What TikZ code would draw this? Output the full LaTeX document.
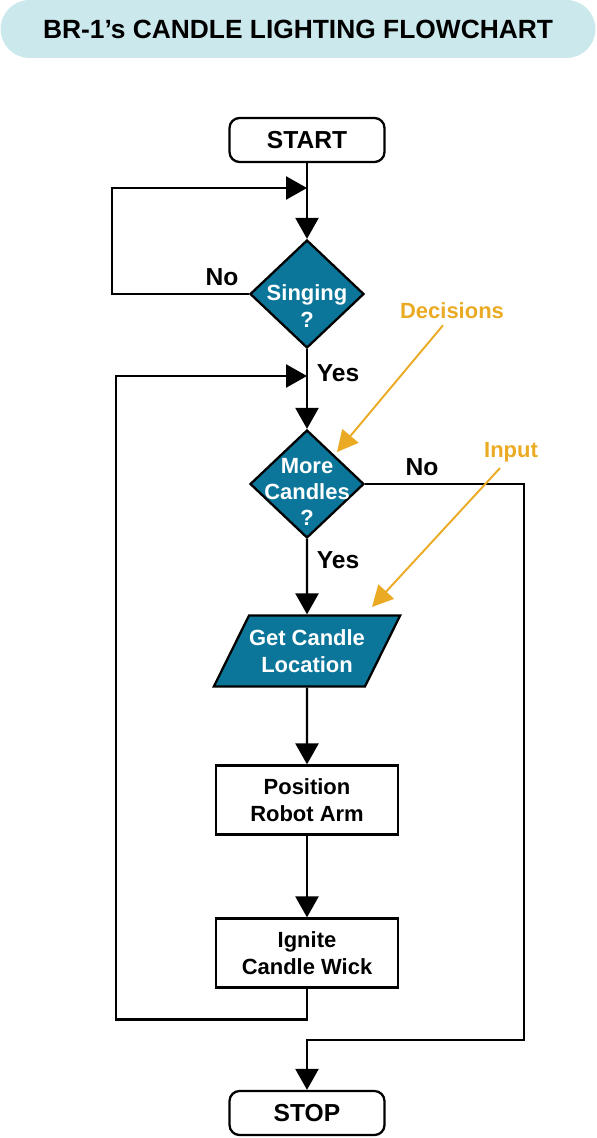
\documentclass[tikz,border=0pt]{standalone}
\usepackage{fontspec}
\setmainfont{Liberation Sans}
\usetikzlibrary{shapes.geometric,arrows.meta,positioning}

\definecolor{bannerbg}{HTML}{CBE9EC}
\definecolor{decfill}{HTML}{0B769A}
\definecolor{noteorange}{HTML}{EBAA23}

\tikzset{
  boxfont/.style={font=\fontsize{12.5}{15}\selectfont\bfseries},
  bigfont/.style={font=\fontsize{14}{17}\selectfont\bfseries},
  banner/.style={fill=bannerbg, rounded corners=0.58cm, minimum width=11.9cm,
    minimum height=1.16cm, font=\fontsize{15}{18}\selectfont\bfseries},
  terminal/.style={draw, line width=1.3pt, rounded corners=0.2cm,
    minimum width=3.1cm, minimum height=0.88cm, bigfont},
  process/.style={draw, line width=1.3pt, minimum width=3.64cm,
    minimum height=1.38cm, align=center, boxfont},
  decision/.style={diamond, draw, line width=1.3pt, fill=decfill,
    minimum width=2.28cm, minimum height=2.16cm, inner sep=0pt},
  dectext/.style={text=white, align=center, boxfont},
  iobox/.style={trapezium, trapezium left angle=57, trapezium right angle=123,
    trapezium stretches=true, draw, line width=1.3pt, fill=decfill, inner xsep=0pt,
    minimum width=3.66cm, minimum height=1.42cm, text=white, align=center, boxfont},
  wire/.style={line width=1.4pt},
  flow/.style={wire, -{Triangle[length=0.42cm,width=0.46cm]}},
  answer/.style={bigfont},
  note/.style={line width=1.1pt, noteorange, -{Triangle[length=0.42cm,width=0.42cm]}},
  notetext/.style={text=noteorange, boxfont}
}

\begin{document}
\begin{tikzpicture}[x=0.02cm, y=-0.02cm]
  \useasboundingbox (0,0) rectangle (596,1138);

  % title
  \node[banner] (title) at (298,29) {BR-1's CANDLE LIGHTING FLOWCHART};

  % main column
  \node[terminal] (start) at (307,140) {START};
  \coordinate (j1) at (307,188);
  \node[decision, label={[dectext, yshift=-0.24cm]center:Singing\\?}] (sing) at (307,294) {};
  \coordinate (j2) at (307,376);
  \node[decision, label={[dectext, yshift=-0.16cm]center:More\\Candles\\?}] (more) at (307,484) {};
  \node[iobox] (loc) at (307,651) {Get Candle\\Location};
  \node[process] (arm) at (307,800) {Position\\Robot Arm};
  \node[process] (wick) at (307,953) {Ignite\\Candle Wick};
  \coordinate (j3) at (307,1040);
  \node[terminal] (stop) at (307,1113) {STOP};

  % answers
  \node[answer] (no1) at (222,277) {No};
  \node[answer] (yes1) at (338,373) {Yes};
  \node[answer] (no2) at (422,467) {No};
  \node[answer] (yes2) at (338,560) {Yes};

  % connectors
  \draw[wire] (start) -- (j1);
  \draw[flow] (j1) -- (sing);
  \draw[flow] (sing.west) -- ++(-137,0) |- (j1);
  \draw[wire] (sing) -- (j2);
  \draw[flow] (j2) -- (more);
  \draw[flow] (more) -- (loc);
  \draw[flow] (loc) -- (arm);
  \draw[flow] (arm) -- (wick);
  \draw[flow] (wick.south) -- ++(0,31) -- ++(-191,0) |- (j2);
  \draw[flow] (more.east) -- ++(159,0) |- (j3) -- (stop);

  % notes
  \node[notetext] (declbl) at (452,311) {Decisions};
  \node[notetext] (inlbl) at (511,452) {Input};
  \coordinate (dectip) at (337,452);
  \coordinate (intip) at (372,607);
  \draw[note] ([xshift=-0.18cm]declbl.south) -- (dectip);
  \draw[note] ([xshift=-0.22cm]inlbl.south) -- (intip);
\end{tikzpicture}
\end{document}
